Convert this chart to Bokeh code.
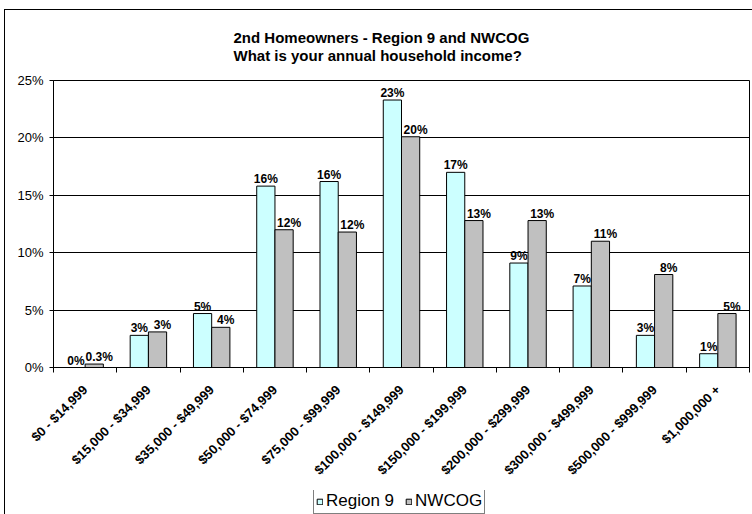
from bokeh.plotting import figure
from bokeh.layouts import column
from bokeh.models import (ColumnDataSource, Range1d, FixedTicker, PrintfTickFormatter,
                          Legend, LegendItem, Title)
from bokeh.embed import file_html
from bokeh.resources import INLINE
from bokeh.core.properties import value

categories = ["$0 - $14,999", "$15,000 - $34,999", "$35,000 - $49,999", "$50,000 - $74,999",
              "$75,000 - $99,999", "$100,000 - $149,999", "$150,000 - $199,999",
              "$200,000 - $299,999", "$300,000 - $499,999", "$500,000 - $999,999",
              "$1,000,000 +"]
region9 = [0.0, 2.8, 4.7, 15.8, 16.2, 23.3, 17.0, 9.1, 7.1, 2.8, 1.2]
nwcog = [0.3, 3.1, 3.5, 12.0, 11.8, 20.1, 12.8, 12.8, 11.0, 8.1, 4.7]
region9_labels = ["0%", "3%", "5%", "16%", "16%", "23%", "17%", "9%", "7%", "3%", "1%"]
nwcog_labels = ["0.3%", "3%", "4%", "12%", "12%", "20%", "13%", "13%", "11%", "8%", "5%"]
y_ticks = [0, 5, 10, 15, 20, 25]
series_names = ["Region 9", "NWCOG"]
title_lines = ["2nd Homeowners - Region 9 and NWCOG", "What is your annual household income?"]

FONT = "Liberation Sans"
C9 = "#CCFFFF"
CN = "#C0C0C0"
n = len(categories)
centers = [i + 0.5 for i in range(n)]
bounds = [float(i) for i in range(n + 1)]
bar_w = 0.288
half = bar_w / 2

src9 = ColumnDataSource(dict(x=[c - half for c in centers], top=region9, text=region9_labels))
srcN = ColumnDataSource(dict(x=[c + half for c in centers], top=nwcog, text=nwcog_labels))

W = 747
p = figure(width=W, height=480, output_backend="svg", toolbar_location=None,
           x_range=Range1d(0, n), y_range=Range1d(0, 25),
           min_border_left=48, min_border_right=3, min_border_top=70, min_border_bottom=123,
           background_fill_color="white", border_fill_color="white")
p.title = None
p.outline_line_color = "black"
p.outline_line_width = 1

r9 = p.vbar(x="x", top="top", width=bar_w, source=src9, fill_color=C9,
            line_color="black", line_width=1)
p.text(x="x", y="top", text="text", source=src9, text_align="center",
       text_baseline="alphabetic", y_offset=-7, x_offset=0,
       text_font=value(FONT), text_font_size="12px", text_font_style="bold",
       text_color="black")
rN = p.vbar(x="x", top="top", width=bar_w, source=srcN, fill_color=CN,
            line_color="black", line_width=1)
p.text(x="x", y="top", text="text", source=srcN, text_align="center",
       text_baseline="alphabetic", y_offset=-7, x_offset=5,
       text_font=value(FONT), text_font_size="12px", text_font_style="bold",
       text_color="black")

# axes
p.xgrid.visible = False
p.ygrid.ticker = FixedTicker(ticks=y_ticks)
p.ygrid.grid_line_color = "black"
p.ygrid.grid_line_width = 1

yax = p.yaxis[0]
yax.ticker = FixedTicker(ticks=y_ticks)
yax.formatter = PrintfTickFormatter(format="%d%%")
yax.major_tick_out = 4
yax.major_tick_in = 0
yax.minor_tick_out = 0
yax.minor_tick_in = 0
yax.major_label_standoff = 6
yax.major_label_text_font = FONT
yax.major_label_text_font_size = "13px"
yax.major_label_text_color = "black"
yax.axis_line_color = "black"
yax.major_tick_line_color = "black"

xax = p.xaxis[0]
xax.ticker = FixedTicker(ticks=centers, minor_ticks=bounds)
xax.major_label_overrides = {c: lab for c, lab in zip(centers, categories)}
xax.major_label_orientation = 0.785398
xax.major_tick_out = 0
xax.major_tick_in = 0
xax.minor_tick_out = 5
xax.minor_tick_in = 0
xax.minor_tick_line_color = "black"
xax.major_label_standoff = 15
xax.major_label_text_font = FONT
xax.major_label_text_font_size = "13px"
xax.major_label_text_font_style = "bold"
xax.major_label_text_color = "black"
xax.axis_line_color = "black"

# two-line title
title = Title(text=title_lines[0] + "\n" + title_lines[1], align="left", offset=180,
              standoff=32, text_font=FONT, text_font_size="15px", text_font_style="bold",
              text_color="black", text_line_height=1.1)
p.add_layout(title, "above")

# legend strip (separate small figure so the legend is not clipped)
q = figure(width=W, height=24, output_backend="svg", toolbar_location=None,
           x_range=Range1d(0, 1), y_range=Range1d(0, 1), min_border=0,
           x_axis_location=None, y_axis_location=None,
           background_fill_color="white", border_fill_color="white")
q.title = None
q.outline_line_color = None
q.grid.visible = False
# tiny proxies hidden behind the legend box, only used for the legend swatches
e9 = q.vbar(x=[0.5], bottom=[0.45], top=[0.55], width=0.005, fill_color=C9,
            line_color="black")
eN = q.vbar(x=[0.5], bottom=[0.45], top=[0.55], width=0.005, fill_color=CN,
            line_color="black")
legend = Legend(items=[LegendItem(label=series_names[0], renderers=[e9]),
                       LegendItem(label=series_names[1], renderers=[eN])],
                orientation="horizontal", location=(260, 0),
                label_text_font=FONT, label_text_font_size="17px", label_text_color="black",
                glyph_width=7, glyph_height=7, label_standoff=3, spacing=11,
                padding=2, margin=0, label_height=16,
                border_line_color="black", border_line_width=1,
                background_fill_color="white", background_fill_alpha=1)
q.add_layout(legend)

layout = column(p, q, spacing=0)
layout.styles = {"margin-left": "4px", "margin-top": "9px",
                 "border-top": "1px solid black", "border-left": "1px solid black"}

open("out.html", "w").write(file_html(layout, INLINE))
